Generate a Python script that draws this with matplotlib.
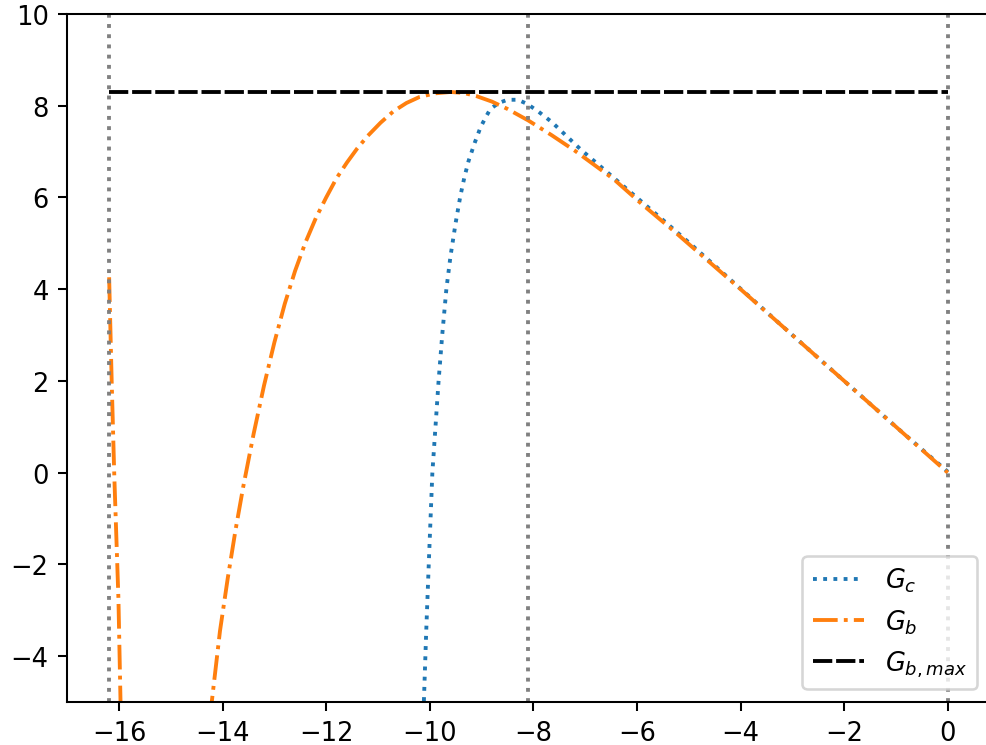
import matplotlib
matplotlib.use("Agg")
import matplotlib.pyplot as plt

# Curva G_c (pontilhada)
gc_x = [-10.12, -10.07, -10.02, -9.95, -9.89, -9.83, -9.76, -9.68, -9.6, -9.5,
        -9.41, -9.33, -9.25, -9.13, -9.02, -8.92, -8.83, -8.67, -8.5, -8.3,
        -8.12, -7.9, -7.64, -7.37, -7.09, -6.45, -5.55, -5.0, -4.0, -3.0,
        -2.0, -1.0, 0.0]
gc_y = [-5.2, -3.5, -2.0, 0.0, 1.0, 2.0, 3.0, 4.0, 4.72, 5.45,
        6.03, 6.45, 6.8, 7.2, 7.53, 7.75, 7.93, 8.06, 8.13, 8.13,
        8.04, 7.87, 7.64, 7.35, 7.05, 6.43, 5.56, 5.02, 4.01, 3.0,
        2.0, 1.0, 0.02]

# Curva G_b - ramo da esquerda
gb_x1 = [-16.19, -16.14, -16.09, -16.01, -15.97]
gb_y1 = [4.26, 1.96, -0.08, -2.77, -5.0]

# Curva G_b - ramo principal
gb_x2 = [-14.25, -14.05, -13.9, -13.75, -13.6, -13.4, -13.2, -13.0, -12.8, -12.6,
         -12.4, -12.2, -12.0, -11.8, -11.6, -11.4, -11.2, -10.95, -10.7, -10.45,
         -10.2, -9.9, -9.6, -9.35, -9.1, -8.8, -8.5, -8.1, -7.65, -7.2,
         -6.8, -6.45, -5.9, -5.3, -4.0, -3.0, -2.0, -1.0, 0.0]
gb_y2 = [-5.4, -3.45, -2.3, -1.25, -0.3, 0.85, 1.9, 2.84, 3.68, 4.4,
         5.02, 5.55, 6.0, 6.42, 6.76, 7.07, 7.34, 7.63, 7.88, 8.06,
         8.19, 8.27, 8.3, 8.28, 8.21, 8.09, 7.93, 7.68, 7.36, 7.02,
         6.69, 6.4, 5.85, 5.28, 4.0, 3.0, 2.0, 1.0, 0.0]

# G_b maximo e linhas verticais
gb_max = 8.3
gmax_x = [-16.2, 0.0]
vert_x = [-16.2, -8.1, 0.0]

fig = plt.figure(figsize=(986 / 185, 746 / 185), dpi=185)
ax = fig.add_axes([0.0676, 0.0576, 0.9362, 0.9223])

ax.plot(gc_x, gc_y, ":", color="C0", lw=1.5, label="$G_c$")
ax.plot(gb_x1, gb_y1, "-.", color="C1", lw=1.5, label="$G_b$")
ax.plot(gb_x2, gb_y2, "-.", color="C1", lw=1.5)
ax.plot(gmax_x, [gb_max, gb_max], ls=(0, (5, 1)), color="k", lw=1.5,
        label="$G_{b,max}$")
for xv in vert_x:
    ax.axvline(xv, color="gray", ls=":", lw=1.5)

ax.set_xlim(-17.01, 0.81)
ax.set_ylim(-5, 10)
ax.set_xticks([-16, -14, -12, -10, -8, -6, -4, -2, 0])
ax.set_yticks([-4, -2, 0, 2, 4, 6, 8, 10])
ax.legend(loc="lower right")

fig.savefig("out.png", dpi=185)
